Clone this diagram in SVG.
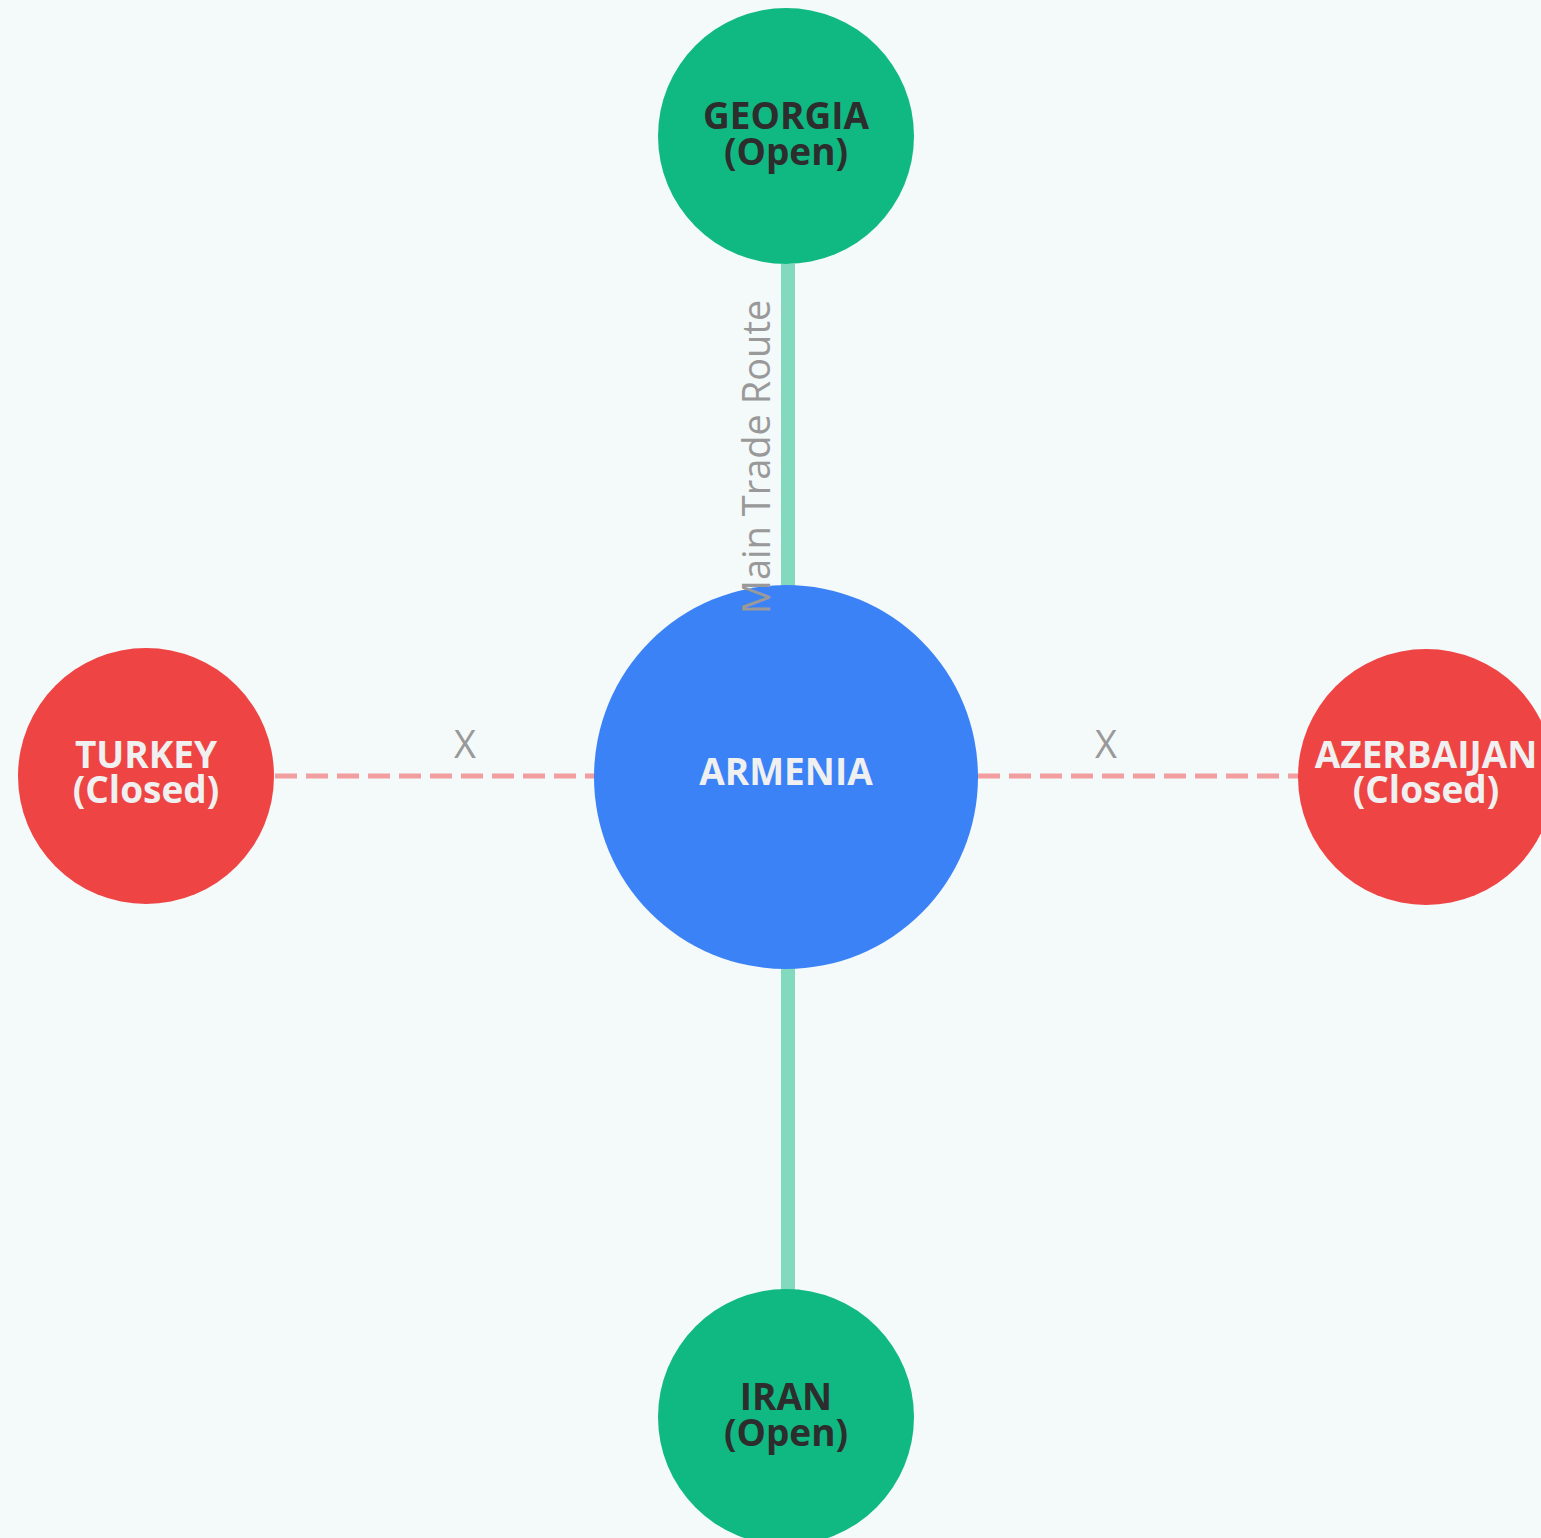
<svg xmlns="http://www.w3.org/2000/svg" width="1541" height="1538" viewBox="0 0 1541 1538">
<style>
.open{fill:#10b981}
.closed{fill:#ef4444}
.center{fill:#3b82f6}
.lbl{font-family:"Open Sans","Liberation Sans",sans-serif;font-weight:bold;font-size:37px;text-anchor:middle}
.dark{fill:#2d2d2d}
.light{fill:#f0f0f0}
.route{stroke:#10b981;stroke-opacity:0.5;stroke-width:14;fill:none}
.blocked{stroke:#ef4444;stroke-opacity:0.5;stroke-width:5;stroke-dasharray:22 9;fill:none}
.elbl{font-family:"Open Sans","Liberation Sans",sans-serif;font-size:38px;fill:#999;text-anchor:middle}
</style>
<rect width="1541" height="1538" fill="#f4f9fa"/>
<g id="connectors">
<line class="route" x1="788" y1="264" x2="788" y2="590"/>
<line class="route" x1="788" y1="965" x2="788" y2="1292"/>
<line class="blocked" x1="275" y1="776" x2="596" y2="776"/>
<line class="blocked" x1="978" y1="776" x2="1299" y2="776"/>
</g>
<g id="georgia">
<circle class="open" cx="786" cy="136" r="128"/>
<text class="lbl dark" x="786" y="129">GEORGIA</text>
<text class="lbl dark" x="786" y="165">(Open)</text>
</g>
<g id="armenia">
<circle class="center" cx="786" cy="777" r="192"/>
<text class="lbl light" x="786" y="785">ARMENIA</text>
</g>
<g id="turkey">
<circle class="closed" cx="146" cy="776" r="128"/>
<text class="lbl light" x="146" y="768">TURKEY</text>
<text class="lbl light" x="146" y="803">(Closed)</text>
</g>
<g id="azerbaijan">
<circle class="closed" cx="1426" cy="777" r="128"/>
<text class="lbl light" x="1426" y="768">AZERBAIJAN</text>
<text class="lbl light" x="1426" y="803">(Closed)</text>
</g>
<g id="iran">
<circle class="open" cx="786" cy="1417" r="128"/>
<text class="lbl dark" x="786" y="1410">IRAN</text>
<text class="lbl dark" x="786" y="1446">(Open)</text>
</g>
<g id="edge-labels">
<text class="elbl" transform="translate(770,457) rotate(-90)" x="0" y="0">Main Trade Route</text>
<text class="elbl" x="465" y="758">X</text>
<text class="elbl" x="1106" y="758">X</text>
</g>
</svg>
